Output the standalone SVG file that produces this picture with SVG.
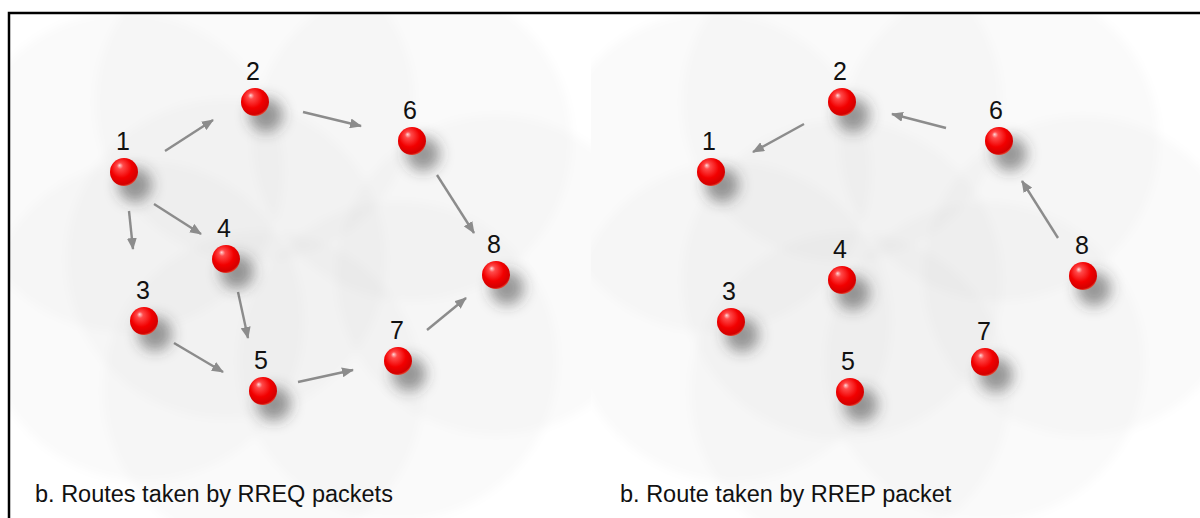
<svg xmlns="http://www.w3.org/2000/svg" width="1200" height="518" viewBox="0 0 1200 518">
  <defs>
    <style>
      .lbl { font-family: "Liberation Sans", Arial, sans-serif; font-size: 25px; fill: #111; text-anchor: middle; }
      .cap { font-family: "Liberation Sans", Arial, sans-serif; font-size: 23.5px; fill: #111; }
      .range { fill: #000; fill-opacity: 0.021; }
      .edge { stroke: #8c8c8c; stroke-width: 2.4; fill: none; marker-end: url(#head); }
      .shadow { fill: #3a3a3a; fill-opacity: 0.5; filter: url(#soft); }
      .ball { fill: url(#red); }
    </style>
    <radialGradient id="red" cx="0.45" cy="0.4" r="0.62" fx="0.34" fy="0.26">
      <stop offset="0" stop-color="#ffd6d6"/>
      <stop offset="0.18" stop-color="#ff4a4a"/>
      <stop offset="0.6" stop-color="#f20000"/>
      <stop offset="0.9" stop-color="#d40000"/>
      <stop offset="1" stop-color="#e85a40"/>
    </radialGradient>
    <filter id="soft" x="-1" y="-1" width="3" height="3">
      <feGaussianBlur stdDeviation="7"/>
    </filter>
    <filter id="haze" x="-0.2" y="-0.2" width="1.4" height="1.4">
      <feGaussianBlur stdDeviation="4"/>
    </filter>
    <marker id="head" viewBox="0 0 12 10" refX="11" refY="5" markerWidth="12" markerHeight="10" markerUnits="userSpaceOnUse" orient="auto">
      <path d="M0,0 L12,5 L0,10 z" fill="#8c8c8c"/>
    </marker>
    <clipPath id="leftPane"><rect x="9" y="13" width="582" height="505"/></clipPath>
    <clipPath id="rightPane"><rect x="591" y="13" width="609" height="505"/></clipPath>
    <g id="ball">
      <ellipse class="shadow" cx="11" cy="13" rx="17" ry="17"/>
      <circle class="ball" r="14"/>
    </g>
  </defs>

  <rect width="1200" height="518" fill="#fff"/>

  <!-- radio ranges, left network -->
  <g clip-path="url(#leftPane)" filter="url(#haze)">
    <circle class="range" cx="124" cy="172" r="160"/>
    <circle class="range" cx="255" cy="102" r="160"/>
    <circle class="range" cx="412" cy="141" r="160"/>
    <circle class="range" cx="226" cy="259" r="160"/>
    <circle class="range" cx="144" cy="321" r="160"/>
    <circle class="range" cx="496" cy="275" r="160"/>
    <circle class="range" cx="398" cy="361" r="160"/>
    <circle class="range" cx="263" cy="391" r="160"/>
  </g>

  <!-- radio ranges, right network -->
  <g clip-path="url(#rightPane)" filter="url(#haze)">
    <circle class="range" cx="711" cy="172" r="160"/>
    <circle class="range" cx="842" cy="102" r="160"/>
    <circle class="range" cx="999" cy="141" r="160"/>
    <circle class="range" cx="842" cy="280" r="160"/>
    <circle class="range" cx="731" cy="322" r="160"/>
    <circle class="range" cx="1083" cy="276" r="160"/>
    <circle class="range" cx="985" cy="362" r="160"/>
    <circle class="range" cx="850" cy="392" r="160"/>
  </g>

  <!-- frame -->
  <path d="M9,518 V13 H1200" fill="none" stroke="#000" stroke-width="2.5"/>

  <!-- connectors -->
  <g id="connectors">
    <line class="edge" x1="165" y1="151" x2="213" y2="120"/>
    <line class="edge" x1="303" y1="112" x2="361" y2="126"/>
    <line class="edge" x1="154" y1="204" x2="201" y2="234"/>
    <line class="edge" x1="129" y1="211" x2="133" y2="249"/>
    <line class="edge" x1="437" y1="175" x2="474" y2="233"/>
    <line class="edge" x1="238" y1="292" x2="248" y2="338"/>
    <line class="edge" x1="174" y1="343" x2="223" y2="372"/>
    <line class="edge" x1="298" y1="382" x2="353" y2="370"/>
    <line class="edge" x1="427" y1="330" x2="466" y2="298"/>

    <line class="edge" x1="804" y1="124" x2="753" y2="152"/>
    <line class="edge" x1="946" y1="128" x2="892" y2="114"/>
    <line class="edge" x1="1058" y1="238" x2="1022" y2="181"/>
  </g>

  <!-- left network nodes -->
  <g id="L1"><use href="#ball" x="124" y="172"/><text class="lbl" x="123" y="150">1</text></g>
  <g id="L2"><use href="#ball" x="255" y="102"/><text class="lbl" x="253" y="80">2</text></g>
  <g id="L6"><use href="#ball" x="412" y="141"/><text class="lbl" x="410" y="119">6</text></g>
  <g id="L4"><use href="#ball" x="226" y="259"/><text class="lbl" x="224" y="237">4</text></g>
  <g id="L3"><use href="#ball" x="144" y="321"/><text class="lbl" x="143" y="299">3</text></g>
  <g id="L8"><use href="#ball" x="496" y="275"/><text class="lbl" x="494" y="253">8</text></g>
  <g id="L7"><use href="#ball" x="398" y="361"/><text class="lbl" x="397" y="339">7</text></g>
  <g id="L5"><use href="#ball" x="263" y="391"/><text class="lbl" x="261" y="369">5</text></g>

  <!-- right network nodes -->
  <g id="R1"><use href="#ball" x="711" y="172"/><text class="lbl" x="709" y="150">1</text></g>
  <g id="R2"><use href="#ball" x="842" y="102"/><text class="lbl" x="840" y="80">2</text></g>
  <g id="R6"><use href="#ball" x="999" y="141"/><text class="lbl" x="996" y="119">6</text></g>
  <g id="R4"><use href="#ball" x="842" y="280"/><text class="lbl" x="840" y="258">4</text></g>
  <g id="R3"><use href="#ball" x="731" y="322"/><text class="lbl" x="729" y="300">3</text></g>
  <g id="R8"><use href="#ball" x="1083" y="276"/><text class="lbl" x="1082" y="254">8</text></g>
  <g id="R7"><use href="#ball" x="985" y="362"/><text class="lbl" x="984" y="340">7</text></g>
  <g id="R5"><use href="#ball" x="850" y="392"/><text class="lbl" x="848" y="370">5</text></g>

  <!-- captions -->
  <text class="cap" x="35" y="502">b. Routes taken by RREQ packets</text>
  <text class="cap" x="620" y="502">b. Route taken by RREP packet</text>
</svg>
